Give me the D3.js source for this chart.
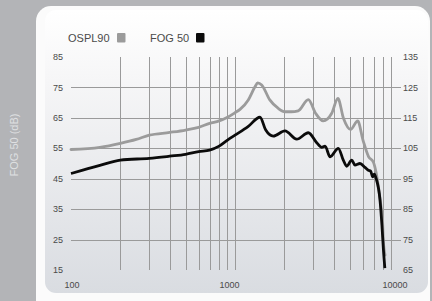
<!DOCTYPE html>
<html><head><meta charset="utf-8">
<script src="https://cdn.jsdelivr.net/npm/d3@7"></script>
<style>html,body{margin:0;padding:0;background:#b3b4b7;}svg{display:block;}</style>
</head><body>
<svg id="chart" width="432" height="301"></svg>
<script>
// ---- data ----
const osplFreq = [100,150,200,250,300,400,500,600,700,800,900,1000,1073,1205,1324,1375,1455,1630,1837,2018,2200,2427,2800,3100,3450,3890,4240,4590,5070,5600,6030,6530,6970,7240,7540,7770,7950,8020,8220];
const osplVals = [104.6,105.3,106.6,107.9,109.3,110.2,111.0,111.9,113.2,114.0,115.2,116.7,117.8,120.9,125.2,126.5,125.8,120.9,118.1,117.0,117.0,117.3,121.0,116.5,114.0,116.5,121.4,114.8,111.2,114.0,107.7,102.2,100.5,97.2,91.2,85.8,80.3,74.8,69.9];
const fogFreq = [100,150,200,300,400,500,600,700,800,900,1000,1200,1420,1540,1712,2018,2378,2800,3150,3380,3540,3800,4265,4575,4800,5150,5390,5780,6210,6500,6720,6910,7070,7240,7660,7870,8040,8200];
const fogVals = [46.7,49.4,51.1,51.7,52.4,53.0,53.9,54.4,55.7,57.7,59.3,62.1,65.2,61.0,59.0,60.7,58.0,60.1,56.8,55.3,55.7,52.2,55.0,51.1,49.1,51.1,49.5,50.0,48.7,47.8,47.5,45.6,46.5,45.2,38.0,29.7,21.5,15.6];
const leftTicks = [15,25,35,45,55,65,75,85];
const rightTicks = [65,75,85,95,105,115,125,135];
const xLabels = [100,1000,10000];
const xGrid = [200,300,400,500,600,700,800,900,1000,2000,3000,4000,5000,6000,7000,8000,9000];
const legendItems = ["OSPL90","FOG 50"];

const svg = d3.select("#chart");
const font = "'Liberation Sans', Arial, Helvetica, sans-serif";

// background panels
svg.append("rect").attr("x",0).attr("y",0).attr("width",432).attr("height",301).attr("fill","#b3b4b7");
svg.append("rect").attr("x",36).attr("y",6).attr("width",394).attr("height",310).attr("rx",15).attr("fill","#fbfbfb");
const defs = svg.append("defs");
const grad = defs.append("linearGradient").attr("id","pg").attr("x1",0).attr("y1",0).attr("x2",0).attr("y2",1);
grad.append("stop").attr("offset","0%").attr("stop-color","#ffffff");
grad.append("stop").attr("offset","25%").attr("stop-color","#f6f6f7");
grad.append("stop").attr("offset","100%").attr("stop-color","#d9dce1");
svg.append("rect").attr("x",45).attr("y",10).attr("width",383).attr("height",283).attr("rx",11).attr("fill","url(#pg)");

// side title
svg.append("text").attr("transform","translate(18,145) rotate(-90)")
  .attr("text-anchor","middle").attr("font-family",font).attr("font-size",11)
  .attr("fill","#dfe0e2").text("FOG 50 (dB)");

// scales
const x = d3.scaleLog().domain([100,10000]).range([71,399]);
const y = d3.scaleLinear().domain([15,85]).range([270,57]);
const yR = d3.scaleLinear().domain([65,135]).range([270,57]);

// grid
const g = svg.append("g").attr("shape-rendering","crispEdges");
g.selectAll(".h").data(leftTicks.filter(d=>d>15 && d<85)).enter().append("line")
  .attr("x1",71).attr("x2",401).attr("y1",d=>Math.round(y(d))+0.5).attr("y2",d=>Math.round(y(d))+0.5)
  .attr("stroke","#9a9a9a").attr("stroke-width",1);
g.selectAll(".v").data(xGrid).enter().append("line")
  .attr("x1",d=>Math.round(x(d))+0.5).attr("x2",d=>Math.round(x(d))+0.5).attr("y1",57).attr("y2",270)
  .attr("stroke","#9a9a9a").attr("stroke-width",1);

// axes labels
const lab = svg.append("g").attr("font-family",font).attr("font-size",9).attr("fill","#4a4a4a");
lab.selectAll(".l").data(leftTicks).enter().append("text")
  .attr("x",63).attr("y",d=>y(d)+3.2).attr("text-anchor","end").text(d=>d);
lab.selectAll(".r").data(rightTicks).enter().append("text")
  .attr("x",403).attr("y",d=>yR(d)+3.2).attr("text-anchor","start").text(d=>d);
const xOff = {100:1, 1000:-5.5, 10000:-4};
lab.selectAll(".x").data(xLabels).enter().append("text")
  .attr("x",d=>x(d)+xOff[d]).attr("y",287.5).attr("text-anchor","middle").text(d=>d);

// lines
const lineR = d3.line().x(d=>x(d[0])).y(d=>yR(d[1])).curve(d3.curveMonotoneX);
const lineL = d3.line().x(d=>x(d[0])).y(d=>y(d[1])).curve(d3.curveMonotoneX);
svg.append("path").datum(osplFreq.map((f,i)=>[f,osplVals[i]])).attr("d",lineR)
  .attr("fill","none").attr("stroke","#9b9b9b").attr("stroke-width",2.8).attr("stroke-linejoin","round").attr("stroke-linecap","round");
svg.append("path").datum(fogFreq.map((f,i)=>[f,fogVals[i]])).attr("d",lineL)
  .attr("fill","none").attr("stroke","#0b0b0b").attr("stroke-width",2.8).attr("stroke-linejoin","round");

// legend
const leg = svg.append("g").attr("font-family",font).attr("font-size",11).attr("fill","#4a4a4a");
const legX = [68,150], sqX = [117,196], sqC = ["#9b9b9b","#0b0b0b"];
legendItems.forEach((t,i)=>{
  leg.append("text").attr("x",legX[i]).attr("y",42).text(t);
  leg.append("rect").attr("x",sqX[i]).attr("y",33).attr("width",8.5).attr("height",9.5).attr("rx",1).attr("fill",sqC[i]);
});
</script>
</body></html>
